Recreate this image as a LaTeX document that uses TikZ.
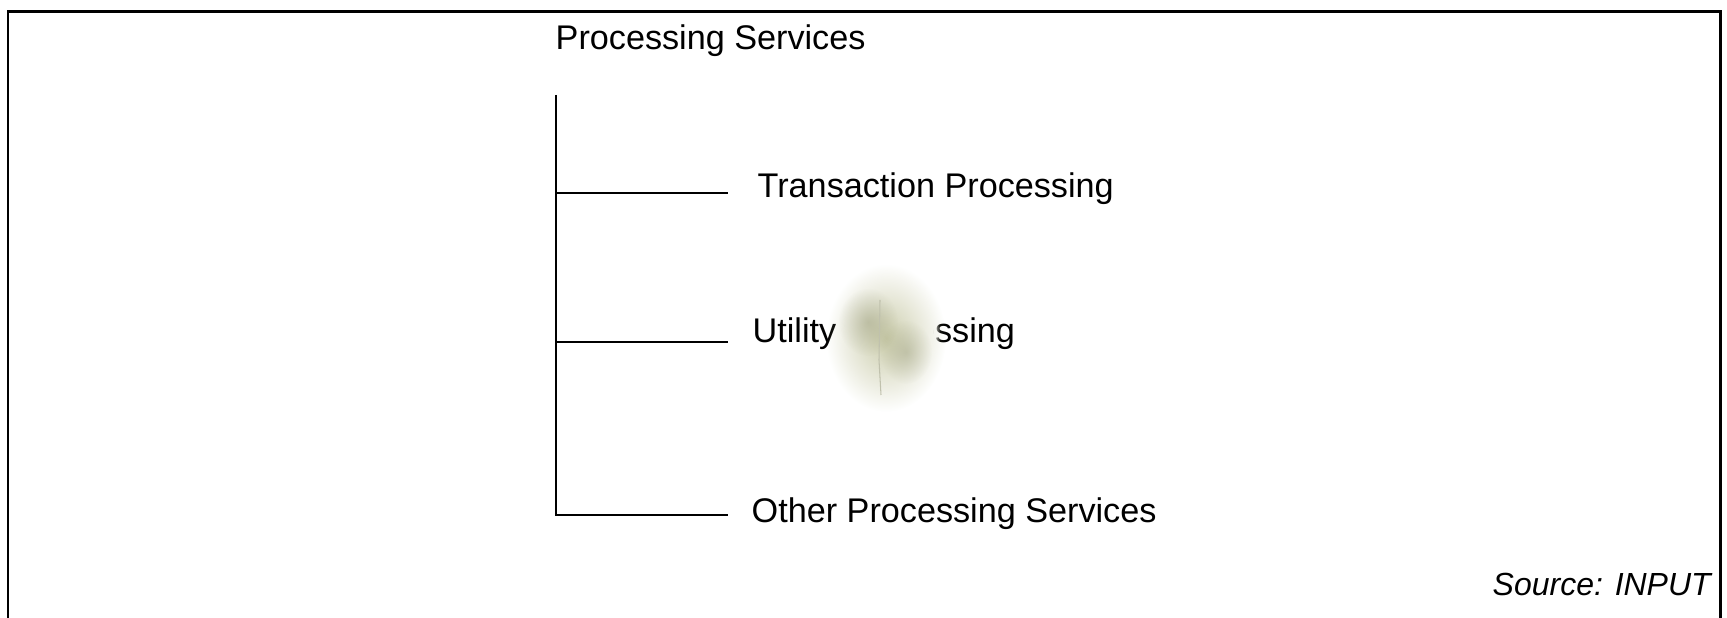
\documentclass[tikz,border=0pt]{standalone}
\usepackage{fontspec}
\setmainfont{Liberation Sans}
\usetikzlibrary{fadings}
\definecolor{blobcol}{RGB}{190,192,150}
\definecolor{blobdark}{RGB}{150,152,118}
\tikzfading[name=softblob, inner color=transparent!0, outer color=transparent!100]
\begin{document}
\begin{tikzpicture}[x=0.1mm,y=-0.1mm,
  lbl/.style={inner sep=0pt, font=\fontsize{9.73pt}{11pt}\selectfont},
  srclbl/.style={inner sep=0pt, font=\fontsize{9.1pt}{11pt}\selectfont\itshape},
  treeline/.style={line width=0.8pt, black},
  framebox/.style={line width=0.85pt, black}]
\useasboundingbox (0,0) rectangle (1727,618);
\draw[framebox] (8,618) -- (8,12) -- (1720,12) -- (1720,618);

\node[lbl, anchor=base west] (root) at (555,50) {Processing Services};
\node[lbl, anchor=base west] (tp) at (757,198) {Transaction Processing};
\node[lbl, anchor=base west] (up) at (752,343) {Utility Processing};
\node[lbl, anchor=base west] (op) at (751,523) {Other Processing Services};

\coordinate (vtop) at (556,95);
\coordinate (b1) at (556,193);
\coordinate (b2) at (556,342);
\coordinate (b3) at (556,515);
\coordinate (e1) at (728,193);
\coordinate (e2) at (728,342);
\coordinate (e3) at (728,515);

\draw[treeline] (vtop) -- (b3) -- (e3);
\draw[treeline] (b1) -- (e1);
\draw[treeline] (b2) -- (e2);

% scan blemish over the middle label
\fill[white, path fading=circle with fuzzy edge 15 percent] (888,334) ellipse (52 and 66);
\fill[blobcol, opacity=0.8, path fading=softblob] (886,338) ellipse (60 and 74);
\fill[blobdark, opacity=0.45, path fading=softblob] (868,322) ellipse (30 and 34);
\fill[blobdark, opacity=0.4, path fading=softblob] (906,352) ellipse (26 and 32);
\draw[blobdark!60!white, line width=0.3pt] (880,300) -- (879,360) -- (881,395);

\node[srclbl, anchor=base west] (src) at (1492,596) {Source: INPUT};
\end{tikzpicture}
\end{document}
